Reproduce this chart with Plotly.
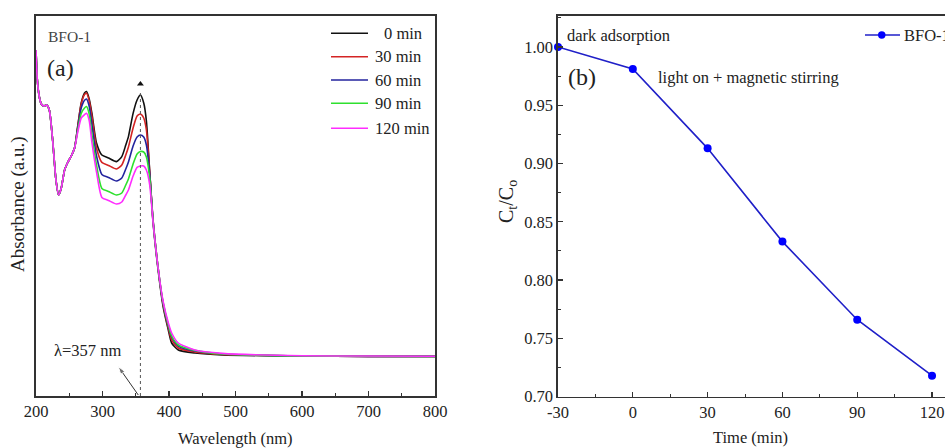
import plotly.graph_objects as go

# ---------------- data: panel (a) UV-vis spectra ----------------
wavelength = [200, 202, 205, 208, 212, 216, 220, 225, 230, 234, 238, 243, 248, 253, 258,
              263, 268, 273, 276, 280, 284, 291, 299, 309, 321, 329, 335, 339, 346, 352,
              357, 362, 366, 371, 376, 384, 391, 399, 404, 414, 439, 480, 600, 700, 800]

abs_0min = [1.730, 1.580, 1.495, 1.460, 1.450, 1.455, 1.430, 1.280, 1.080, 1.005, 1.040, 1.130, 1.170, 1.200, 1.240,
            1.355, 1.465, 1.515, 1.522, 1.485, 1.415, 1.265, 1.205, 1.190, 1.172, 1.197, 1.255, 1.297, 1.413, 1.480,
            1.505, 1.465, 1.375, 1.120, 0.870, 0.620, 0.450, 0.330, 0.265, 0.230, 0.215, 0.205, 0.200, 0.198, 0.198]
abs_30min = [1.730, 1.580, 1.495, 1.460, 1.450, 1.455, 1.430, 1.280, 1.080, 1.005, 1.040, 1.130, 1.170, 1.200, 1.240,
             1.353, 1.460, 1.507, 1.514, 1.477, 1.400, 1.240, 1.168, 1.153, 1.135, 1.155, 1.205, 1.245, 1.340, 1.400,
             1.410, 1.390, 1.330, 1.120, 0.880, 0.630, 0.460, 0.340, 0.280, 0.240, 0.220, 0.208, 0.200, 0.198, 0.198]
abs_60min = [1.730, 1.580, 1.495, 1.460, 1.450, 1.455, 1.430, 1.280, 1.080, 1.005, 1.040, 1.130, 1.170, 1.200, 1.240,
             1.345, 1.440, 1.479, 1.485, 1.449, 1.360, 1.200, 1.108, 1.093, 1.075, 1.090, 1.135, 1.170, 1.250, 1.295,
             1.305, 1.295, 1.255, 1.110, 0.880, 0.630, 0.465, 0.350, 0.295, 0.250, 0.225, 0.210, 0.200, 0.198, 0.198]
abs_90min = [1.730, 1.580, 1.495, 1.460, 1.450, 1.455, 1.430, 1.280, 1.080, 1.005, 1.040, 1.130, 1.170, 1.200, 1.240,
             1.333, 1.413, 1.440, 1.447, 1.410, 1.310, 1.155, 1.038, 1.023, 1.005, 1.015, 1.055, 1.085, 1.160, 1.210,
             1.222, 1.220, 1.195, 1.090, 0.875, 0.630, 0.470, 0.355, 0.300, 0.255, 0.228, 0.210, 0.200, 0.199, 0.198]
abs_120min = [1.730, 1.580, 1.495, 1.460, 1.450, 1.455, 1.430, 1.280, 1.080, 1.005, 1.040, 1.130, 1.170, 1.200, 1.240,
              1.323, 1.390, 1.407, 1.414, 1.377, 1.270, 1.120, 0.993, 0.978, 0.960, 0.970, 1.005, 1.030, 1.100, 1.143,
              1.150, 1.150, 1.130, 1.055, 0.870, 0.630, 0.475, 0.365, 0.315, 0.265, 0.230, 0.213, 0.201, 0.200, 0.199]

time_labels = ["0 min", "30 min", "60 min", "90 min", "120 min"]
series_colors = ["#111111", "#d42424", "#23239e", "#2ee02e", "#ff2cff"]
wl_ticks = [200, 300, 400, 500, 600, 700, 800]
peak_wl = 357
peak_label = "λ=357 nm"

# ---------------- data: panel (b) degradation kinetics ----------------
time_min = [-30, 0, 30, 60, 90, 120]
ct_c0 = [1.000, 0.981, 0.913, 0.833, 0.766, 0.718]
time_ticks = [-30, 0, 30, 60, 90, 120]
ct_ticks = [0.70, 0.75, 0.80, 0.85, 0.90, 0.95, 1.00]

FONT = "Liberation Serif, Times New Roman, serif"
AX = "#333333"
TXT = "#222222"
W, H = 945, 448


def px(x):
    return x / W


def py(y):
    return 1 - y / H


fig = go.Figure()

spectra = [abs_0min, abs_30min, abs_60min, abs_90min, abs_120min]
for lab, col, ys in zip(time_labels, series_colors, spectra):
    fig.add_trace(go.Scatter(x=wavelength, y=ys, mode="lines", name=lab,
                             line=dict(color=col, width=1.6, shape="spline", smoothing=0.6),
                             xaxis="x", yaxis="y", showlegend=False, hoverinfo="skip"))

# small arrow head on top of the dotted marker line
fig.add_trace(go.Scatter(x=[peak_wl], y=[1.56], mode="markers",
                         marker=dict(symbol="triangle-up", size=6, color="#111111"),
                         xaxis="x", yaxis="y", showlegend=False, hoverinfo="skip"))

# pointer arrow from the dotted line towards the label
fig.add_trace(go.Scatter(x=[353.8, 323.8], y=[0.005, 0.147], mode="lines+markers",
                         line=dict(color="#333333", width=1),
                         marker=dict(symbol=["circle", "arrow"], size=[0, 8], color="#333333",
                                     angleref="previous"),
                         xaxis="x", yaxis="y", showlegend=False, hoverinfo="skip",
                         cliponaxis=False))

fig.add_trace(go.Scatter(x=time_min, y=ct_c0, mode="lines+markers", name="BFO-1",
                         line=dict(color="#2020c8", width=1.6),
                         marker=dict(color="#0000ff", size=8),
                         xaxis="x2", yaxis="y2", showlegend=False, cliponaxis=False))

axis_common = dict(showline=True, linecolor=AX, linewidth=1.6, showgrid=False, zeroline=False,
                   automargin=False, tickfont=dict(family=FONT, size=16.5, color=TXT))

fig.update_layout(
    template="none",
    width=W, height=H, autosize=False,
    margin=dict(l=0, r=0, t=0, b=0, pad=0),
    paper_bgcolor="white", plot_bgcolor="white",
    font=dict(family=FONT, color=TXT),
    showlegend=False,
    xaxis=dict(domain=[px(36), px(435)], range=[200, 800], anchor="y", mirror=True,
               tickmode="array", tickvals=wl_ticks, ticktext=[str(v) for v in wl_ticks],
               ticks="inside", ticklen=5, tickwidth=1.3, tickcolor=AX,
               minor=dict(ticks="inside", ticklen=3, tickwidth=1, tickcolor=AX, dtick=50, tick0=200),
               **axis_common),
    yaxis=dict(domain=[1 - 396 / H, 1 - 16 / H], range=[0, 1.9], anchor="x", mirror=True,
               showticklabels=False, ticks="", **axis_common),
    xaxis2=dict(domain=[px(558), 1.0], range=[-30, 125.2], anchor="y2", mirror=True,
                tickmode="array", tickvals=time_ticks, ticktext=[str(v) for v in time_ticks],
                ticks="inside", ticklen=5, tickwidth=1.3, tickcolor=AX,
                minor=dict(ticks="inside", ticklen=3, tickwidth=1, tickcolor=AX, dtick=15, tick0=-30),
                **axis_common),
    yaxis2=dict(domain=[1 - 396.7 / H, 1 - 16 / H], range=[0.70, 1.0265], anchor="x2", mirror=False,
                tickmode="array", tickvals=ct_ticks, ticktext=["%.2f" % v for v in ct_ticks],
                ticks="inside", ticklen=5, tickwidth=1.3, tickcolor=AX,
                minor=dict(ticks="inside", ticklen=3, tickwidth=1, tickcolor=AX, dtick=0.025, tick0=0.70),
                **axis_common),
)

shapes = []
annotations = []

# dotted line at the absorption maximum
shapes.append(dict(type="line", xref="x", yref="y", x0=peak_wl, x1=peak_wl, y0=0, y1=1.53,
                   line=dict(color="#555555", width=1, dash="dot")))

# legend of panel (a)
legend_rows = [33.3, 56.7, 80, 103.3, 128.3]
for lab, col, yy in zip(time_labels, series_colors, legend_rows):
    shapes.append(dict(type="line", xref="paper", yref="paper", x0=px(331), x1=px(368),
                       y0=py(yy), y1=py(yy), line=dict(color=col, width=1.6)))
    x_text = 373 + (9 if len(lab.split()[0]) == 1 else 0)
    annotations.append(dict(xref="paper", yref="paper", x=px(x_text), y=py(yy), text=lab,
                            showarrow=False, xanchor="left", yanchor="middle",
                            font=dict(family=FONT, size=16.5, color=TXT)))

# legend of panel (b) (cut by the image edge like the reference)
shapes.append(dict(type="line", xref="paper", yref="paper", x0=px(865), x1=px(900),
                   y0=py(35), y1=py(35), line=dict(color="#2020c8", width=1.6)))
shapes.append(dict(type="circle", xref="paper", yref="paper", x0=px(878), x1=px(885.5),
                   y0=py(38.7), y1=py(31.3), fillcolor="#0000ff", line=dict(color="#0000ff", width=0)))
annotations.append(dict(xref="paper", yref="paper", x=px(902), y=py(35), text="BFO-1",
                        showarrow=False, xanchor="left", yanchor="middle",
                        font=dict(family=FONT, size=16.5, color=TXT)))

# panel (a) texts
annotations += [
    dict(xref="paper", yref="paper", x=px(46), y=py(36), text="BFO-1", showarrow=False,
         xanchor="left", yanchor="middle", font=dict(family=FONT, size=15.5, color="#444444")),
    dict(xref="paper", yref="paper", x=px(45), y=py(68), text="(a)", showarrow=False,
         xanchor="left", yanchor="middle", font=dict(family=FONT, size=24, color=TXT)),
    dict(xref="x", yref="y", x=278, y=0.23, text=peak_label, showarrow=False,
         xanchor="center", yanchor="middle", font=dict(family=FONT, size=16.5, color=TXT)),
    dict(xref="paper", yref="paper", x=px(18), y=py(204), text="Absorbance (a.u.)", showarrow=False,
         textangle=-90, xanchor="center", yanchor="middle",
         font=dict(family=FONT, size=19, color=TXT)),
    dict(xref="paper", yref="paper", x=px(235), y=py(438), text="Wavelength (nm)", showarrow=False,
         xanchor="center", yanchor="middle", font=dict(family=FONT, size=16.5, color=TXT)),
]

# panel (b) texts
annotations += [
    dict(xref="paper", yref="paper", x=px(565), y=py(35), text="dark adsorption", showarrow=False,
         xanchor="left", yanchor="middle", font=dict(family=FONT, size=16.5, color=TXT)),
    dict(xref="paper", yref="paper", x=px(566), y=py(77), text="(b)", showarrow=False,
         xanchor="left", yanchor="middle", font=dict(family=FONT, size=24, color=TXT)),
    dict(xref="paper", yref="paper", x=px(656), y=py(77), text="light on + magnetic stirring",
         showarrow=False, xanchor="left", yanchor="middle",
         font=dict(family=FONT, size=16.5, color=TXT)),
    dict(xref="paper", yref="paper", x=px(507), y=py(202), text="C<sub>t</sub>/C<sub>o</sub>",
         showarrow=False, textangle=-90, xanchor="center", yanchor="middle",
         font=dict(family=FONT, size=20, color=TXT)),
    dict(xref="paper", yref="paper", x=px(750), y=py(437), text="Time (min)", showarrow=False,
         xanchor="center", yanchor="middle", font=dict(family=FONT, size=16.5, color=TXT)),
]

fig.update_layout(shapes=shapes, annotations=annotations)
fig.write_html("out.html", config={"displayModeBar": False, "staticPlot": True},
               post_script="document.body.style.margin='0';")
